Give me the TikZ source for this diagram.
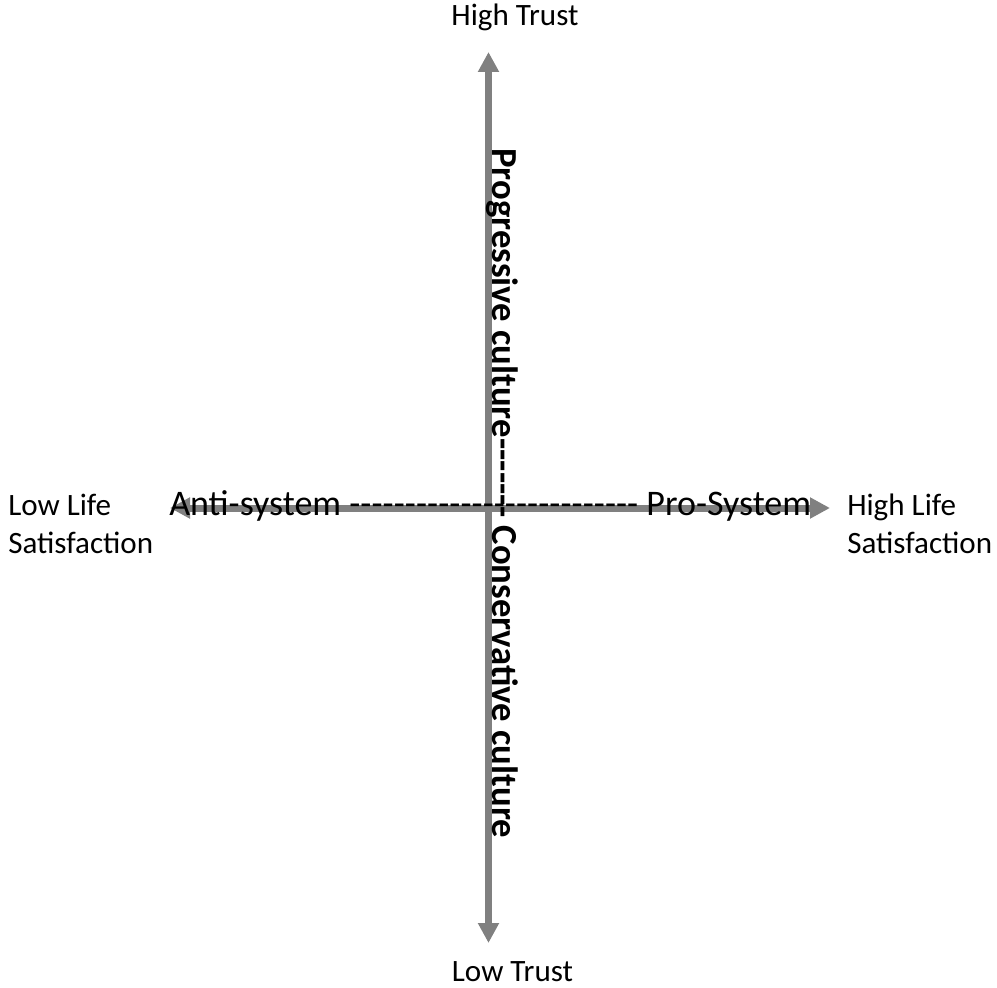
\documentclass[tikz,border=0pt]{standalone}
\usepackage{fontspec}
\setmainfont{Carlito}
\usetikzlibrary{arrows.meta}
\definecolor{axisgray}{RGB}{128,128,128}
\tikzset{
  axis/.style={draw=axisgray, line width=5.25pt, {Triangle[length=15pt,width=15pt]}-{Triangle[length=15pt,width=15pt]}},
  endlabel/.style={inner sep=0pt, font=\fontsize{23.3pt}{28.5pt}\selectfont, align=left},
  mainlabel/.style={inner sep=0pt, font=\fontsize{27pt}{30pt}\selectfont},
  vlabel/.style={inner sep=0pt, font=\fontsize{27.5pt}{32pt}\selectfont\bfseries, rotate=-90}
}
\begin{document}
\begin{tikzpicture}[x=0.75pt, y=-0.75pt]
\useasboundingbox (0,0) rectangle (997,988);
% axes
\coordinate (vtop) at (488.5,52);
\coordinate (vbot) at (488.5,943);
\coordinate (hleft) at (170,508);
\coordinate (hright) at (830,508);
\draw[axis] (vbot) -- (vtop);
\draw[axis] (hleft) -- (hright);
% end labels
\node[endlabel, anchor=base] (ht) at (515,26) {High Trust};
\node[endlabel, anchor=base] (lt) at (512.5,981) {Low Trust};
\node[endlabel, anchor=base west] (ll) at (8,553) {Low Life\\Satisfaction};
\node[endlabel, anchor=base west] (hl) at (847,553) {High Life\\Satisfaction};
% main texts
\node[mainlabel, anchor=base west] (hs) at (169,515) {\hbox to 642\dimexpr0.75pt\relax{Anti-system \xleaders\hbox{-}\hfill\ Pro-System}};
\node[vlabel, anchor=base west] (vs) at (492,148) {\hbox to 690\dimexpr0.75pt\relax{Progressive culture\xleaders\hbox{-}\hfill\ Conservative culture}};
\end{tikzpicture}
\end{document}
